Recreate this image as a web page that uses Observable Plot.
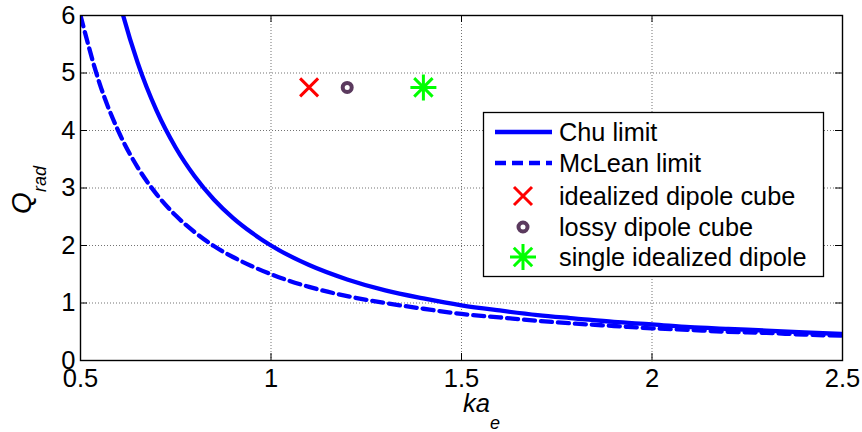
<!DOCTYPE html>
<html>
<head>
<meta charset="utf-8">
<script src="https://cdn.jsdelivr.net/npm/d3@7"></script>
<script src="https://cdn.jsdelivr.net/npm/@observablehq/plot@0.6"></script>
<style>
  html, body { margin: 0; padding: 0; background: #fff; }
  #chart { width: 862px; height: 432px; }
</style>
</head>
<body>
<div id="chart"></div>
<script>
// Electrical size ka_e and the two fundamental Q bounds
const ka = [0.5, 0.55, 0.6, 0.65, 0.7, 0.75, 0.8, 0.85, 0.9, 0.95, 1.0,
            1.1, 1.2, 1.3, 1.4, 1.5, 1.6, 1.7, 1.8, 1.9, 2.0, 2.1, 2.2, 2.3, 2.4, 2.5];
const chuQ = [10.0, 7.83, 6.30, 5.18, 4.34, 3.70, 3.20, 2.80, 2.48, 2.22, 2.00,
              1.66, 1.41, 1.22, 1.08, 0.96, 0.87, 0.79, 0.73, 0.67, 0.63, 0.58, 0.55, 0.52, 0.49, 0.46];
const mcleanQ = [6.00, 4.82, 3.98, 3.36, 2.89, 2.52, 2.23, 1.99, 1.80, 1.64, 1.50,
                 1.28, 1.12, 1.00, 0.90, 0.81, 0.75, 0.69, 0.64, 0.60, 0.56, 0.53, 0.50, 0.48, 0.45, 0.43];

// Simulated designs
const designNames = ["idealized dipole cube", "lossy dipole cube", "single idealized dipole"];
const designKa = [1.1, 1.2, 1.4];
const designQ = [4.75, 4.75, 4.75];

const xTicks = [0.5, 1, 1.5, 2, 2.5];
const yTicks = [0, 1, 2, 3, 4, 5, 6];

const BLUE = "#0000ff";
const RED = "#ff0000";
const PURPLE = "#5b3a5e";
const GREEN = "#00ff00";

const curves = ka.map((k, i) => ({ka: k, chu: chuQ[i], mclean: mcleanQ[i]}));
const designs = designNames.map((name, i) => ({name, ka: designKa[i], q: designQ[i]}));

// Marker shapes
const crossSymbol = {
  draw(ctx, size) {
    const r = Math.sqrt(size / Math.PI);
    ctx.moveTo(-r, -r); ctx.lineTo(r, r);
    ctx.moveTo(r, -r); ctx.lineTo(-r, r);
  }
};
const starSymbol = {
  draw(ctx, size) {
    const r = Math.sqrt(size / Math.PI);
    const d = r * Math.SQRT1_2;
    ctx.moveTo(-r, 0); ctx.lineTo(r, 0);
    ctx.moveTo(0, -r); ctx.lineTo(0, r);
    ctx.moveTo(-d, -d); ctx.lineTo(d, d);
    ctx.moveTo(d, -d); ctx.lineTo(-d, d);
  }
};

const W = 862, H = 432;
const mL = 80, mR = 20, mT = 15, mB = 72;
const plotW = W - mL - mR, plotH = H - mT - mB;
const TICK = 7;
const FONT = "'Liberation Sans', Arial, sans-serif";
const TICK_FONT = 25.5;
const gridStyle = {stroke: "#000", strokeOpacity: 0.55, strokeDasharray: "1,2", strokeWidth: 1};

const chart = Plot.plot({
  width: W,
  height: H,
  marginLeft: mL,
  marginRight: mR,
  marginTop: mT,
  marginBottom: mB,
  style: {fontFamily: FONT, fontSize: "24px", color: "#000", background: "#fff"},
  x: {domain: [0.5, 2.5], label: null},
  y: {domain: [0, 6], label: null},
  marks: [
    Plot.gridX(xTicks, gridStyle),
    Plot.gridY(yTicks, gridStyle),
    Plot.line(curves, {x: "ka", y: "chu", stroke: BLUE, strokeWidth: 4.3, curve: "monotone-x", clip: true}),
    Plot.line(curves, {x: "ka", y: "mclean", stroke: BLUE, strokeWidth: 4.3, strokeDasharray: "11,6", curve: "monotone-x", clip: true}),
    Plot.dot(designs.slice(0, 1), {x: "ka", y: "q", symbol: crossSymbol, r: 9, stroke: RED, strokeWidth: 3, fill: "none"}),
    Plot.dot(designs.slice(1, 2), {x: "ka", y: "q", r: 4.5, stroke: PURPLE, strokeWidth: 4, fill: "none"}),
    Plot.dot(designs.slice(2, 3), {x: "ka", y: "q", symbol: starSymbol, r: 13, stroke: GREEN, strokeWidth: 3, fill: "none"}),
    // inward ticks on all four sides
    Plot.tickX(xTicks, {x: d => d, stroke: "#000", insetTop: plotH - TICK}),
    Plot.tickX(xTicks, {x: d => d, stroke: "#000", insetBottom: plotH - TICK}),
    Plot.tickY(yTicks, {y: d => d, stroke: "#000", insetRight: plotW - TICK}),
    Plot.tickY(yTicks, {y: d => d, stroke: "#000", insetLeft: plotW - TICK}),
    Plot.axisX(xTicks, {anchor: "bottom", tickSize: 0, tickPadding: 8, fontSize: TICK_FONT, tickFormat: d => String(d), label: null}),
    Plot.axisY(yTicks, {anchor: "left", tickSize: 0, tickPadding: 5, fontSize: TICK_FONT, tickFormat: d => String(d), label: null}),
    Plot.frame({stroke: "#000", strokeWidth: 1.4})
  ]
});

document.getElementById("chart").appendChild(chart);

const svg = d3.select(chart);

// Axis titles with subscripts
const xTitle = svg.append("text")
  .attr("x", 463).attr("y", 412).attr("text-anchor", "start")
  .attr("font-family", FONT).attr("font-size", 25.5).attr("font-style", "italic").attr("fill", "#000");
xTitle.append("tspan").text("ka");
xTitle.append("tspan").attr("font-size", 18).attr("dy", 17).text("e");

const yTitle = svg.append("text")
  .attr("transform", "translate(31,190) rotate(-90)")
  .attr("text-anchor", "middle").attr("font-family", FONT).attr("font-size", 28).attr("fill", "#000");
yTitle.append("tspan").attr("font-style", "italic").text("Q");
yTitle.append("tspan").attr("font-style", "italic").attr("font-size", 18).attr("dy", 15).text("rad");

// Legend box
const lg = svg.append("g");
lg.append("rect")
  .attr("x", 483.5).attr("y", 112.5).attr("width", 340).attr("height", 164)
  .attr("fill", "#fff").attr("stroke", "#000").attr("stroke-width", 1.3);

const rowY = [132, 163, 196, 227, 257];
const legendLabels = ["Chu limit", "McLean limit", ...designNames];
const symX = 523;

lg.append("line").attr("x1", 495).attr("x2", 552).attr("y1", rowY[0]).attr("y2", rowY[0])
  .attr("stroke", BLUE).attr("stroke-width", 4.3);
lg.append("line").attr("x1", 495).attr("x2", 552).attr("y1", rowY[1]).attr("y2", rowY[1])
  .attr("stroke", BLUE).attr("stroke-width", 4.3).attr("stroke-dasharray", "11,6");
lg.append("path").attr("transform", `translate(${symX},${rowY[2]})`)
  .attr("d", d3.symbol(crossSymbol, Math.PI * 81)()).attr("stroke", RED).attr("stroke-width", 3).attr("fill", "none");
lg.append("circle").attr("cx", symX).attr("cy", rowY[3]).attr("r", 4.5)
  .attr("stroke", PURPLE).attr("stroke-width", 4).attr("fill", "none");
lg.append("path").attr("transform", `translate(${symX},${rowY[4]})`)
  .attr("d", d3.symbol(starSymbol, Math.PI * 169)()).attr("stroke", GREEN).attr("stroke-width", 3).attr("fill", "none");

legendLabels.forEach((t, i) => {
  lg.append("text").attr("x", 559).attr("y", rowY[i]).attr("dy", "0.35em")
    .attr("text-anchor", "start").attr("font-family", FONT)
    .attr("font-size", 25.3).attr("fill", "#000").text(t);
});
</script>
</body>
</html>
